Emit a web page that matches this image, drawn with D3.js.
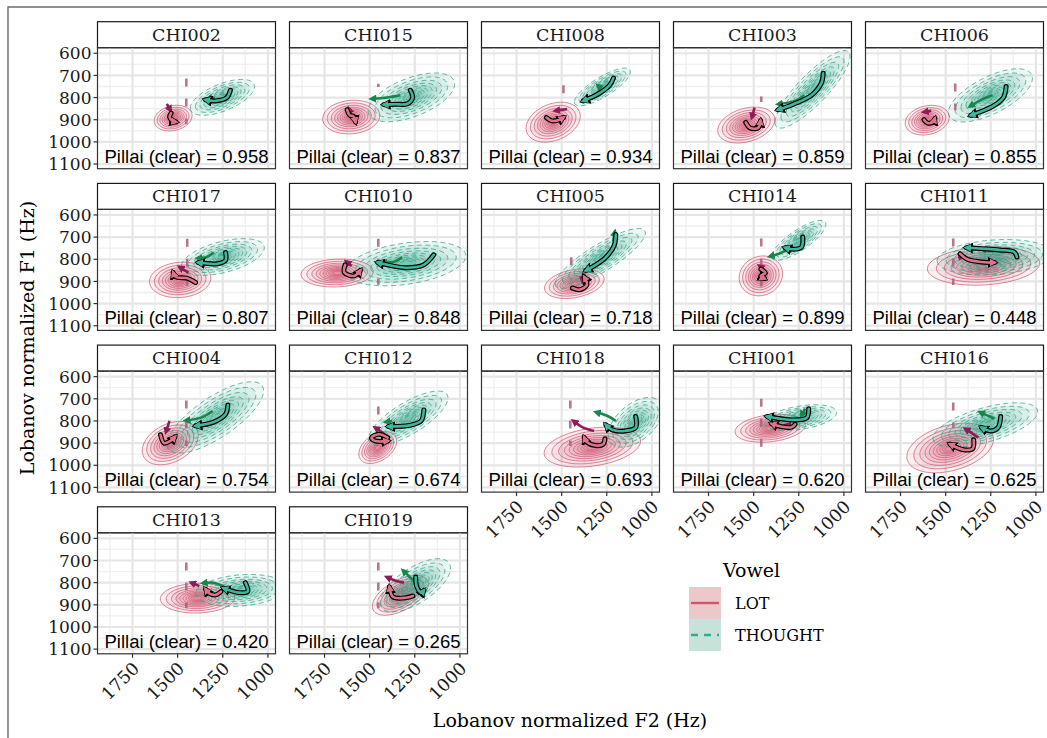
<!DOCTYPE html>
<html><head><meta charset="utf-8">
<script src="https://cdn.jsdelivr.net/npm/d3@7"></script>
<style>body{margin:0;background:#fff} svg{display:block}</style>
</head><body><svg id="c" width="1047" height="738"></svg>
<script>
// ---------------- data ----------------
const speakers = ["CHI002","CHI015","CHI008","CHI003","CHI006","CHI017","CHI010","CHI005","CHI014","CHI011","CHI004","CHI012","CHI018","CHI001","CHI016","CHI013","CHI019"];
const pillai = [0.958,0.837,0.934,0.859,0.855,0.807,0.848,0.718,0.899,0.448,0.754,0.674,0.693,0.620,0.625,0.420,0.265];
const vowels = ["LOT","THOUGHT"];
const xTicks = [1750,1500,1250,1000];
const yTicks = [600,700,800,900,1000,1100];
// density centres [F2, F1] and spread [sdF2, sdF1, correlation]
const lotCenter = [[1525,893],[1602,888],[1547,911],[1541,924],[1602,902],[1486,893],[1680,862],[1430,910],[1460,875],[1290,830],[1541,900],[1455,920],[1330,918],[1408,833],[1475,922],[1390,870],[1330,857]];
const lotSpread = [[105,58,0.2],[158,76,0.1],[150,90,0.3],[158,81,0.3],[122,67,0.2],[170,80,0.1],[200,63,0.1],[165,67,0.3],[120,90,0.1],[311,87,0.15],[155,98,0.35],[105,72,0.4],[267,90,0.3],[195,63,0.25],[240,112,0.35],[206,67,0.05],[155,90,0.55]];
const thoughtCenter = [[1252,799],[1269,799],[1274,752],[1174,763],[1252,790],[1250,790],[1300,820],[1286,796],[1250,715],[1230,791],[1291,784],[1286,788],[1091,806],[1240,785],[1280,818],[1150,835],[1247,812]];
const thoughtSpread = [[178,81,0.6],[240,110,0.55],[155,85,0.8],[208,175,0.85],[233,120,0.65],[230,83,0.5],[333,100,0.35],[250,135,0.85],[150,90,0.8],[317,80,0.2],[267,161,0.75],[220,123,0.75],[150,112,0.5],[200,58,0.4],[290,100,0.6],[250,72,0.2],[195,120,0.65]];
// mean trajectories (clear tokens, outlined)
const lotTraj = [
 [[1536,870],[1545,888],[1528,905],[1510,910]],
 [[1625,855],[1610,880],[1590,885],[1578,910]],
 [[1585,890],[1555,905],[1520,902],[1490,890]],
 [[1544,912],[1520,937],[1475,937],[1462,905]],
 [[1620,900],[1600,915],[1570,910],[1560,895]],
 [[1400,905],[1450,885],[1510,880],[1525,860]],
 [[1636,825],[1640,860],[1585,875],[1552,850]],
 [[1440,930],[1400,937],[1360,915],[1375,880]],
 [[1460,845],[1435,862],[1460,875],[1440,887]],
 [[1420,775],[1380,800],[1300,812],[1230,815]],
 [[1595,862],[1575,900],[1540,890],[1515,872]],
 [[1400,875],[1450,860],[1490,875],[1470,890],[1400,890]],
 [[1260,880],[1270,905],[1320,910],[1360,895],[1375,875]],
 [[1270,815],[1290,828],[1350,825],[1400,812]],
 [[1345,885],[1350,925],[1400,930],[1475,905]],
 [[1260,840],[1290,855],[1325,848],[1345,830]],
 [[1260,860],[1300,868],[1370,865],[1390,820]]
];
const thoughtTraj = [
 [[1208,767],[1228,800],[1290,815],[1345,810]],
 [[1275,767],[1262,800],[1290,828],[1360,830],[1420,832]],
 [[1213,712],[1235,745],[1300,785],[1380,815]],
 [[1115,690],[1125,735],[1180,790],[1280,830],[1365,855]],
 [[1165,750],[1180,800],[1240,840],[1360,880]],
 [[1235,770],[1235,805],[1280,820],[1385,815]],
 [[1145,780],[1200,825],[1300,838],[1455,815]],
 [[1200,688],[1210,740],[1260,795],[1320,830],[1365,850]],
 [[1228,700],[1235,745],[1280,755],[1325,748]],
 [[1105,790],[1120,768],[1200,758],[1300,752],[1385,748]],
 [[1222,728],[1235,770],[1300,805],[1400,822]],
 [[1200,750],[1215,800],[1280,820],[1395,825]],
 [[1090,780],[1090,830],[1150,845],[1220,840],[1255,818]],
 [[1195,745],[1205,785],[1260,795],[1350,790],[1425,780]],
 [[1195,780],[1210,830],[1250,845],[1300,830]],
 [[1125,800],[1112,840],[1160,845],[1210,835],[1245,825]],
 [[1245,775],[1240,815],[1215,845],[1200,835]]
];
// other-context trajectories (thin, no outline)
const lotOther = [
 [[1560,828],[1540,858]],[[1600,885],[1615,850]],[[1470,852],[1535,860]],[[1495,845],[1510,890]],[[1580,860],[1620,865]],
 [[1440,860],[1490,835]],[[1600,830],[1630,810]],[[1380,860],[1385,900]],[[1455,838],[1468,830]],[[1430,790],[1405,786]],
 [[1545,800],[1565,850]],[[1415,860],[1470,830]],[[1320,845],[1380,830],[1435,800]],[[1300,820],[1320,818]],[[1319,876],[1355,855],[1391,836]],
 [[1380,815],[1425,800]],[[1310,800],[1360,790],[1405,775]]
];
const thoughtOther = [
 [[1295,800],[1335,806]],[[1330,790],[1400,800],[1490,806]],[[1280,760],[1300,745]],[[1220,790],[1270,815],[1365,830]],[[1240,790],[1290,805],[1365,840]],
 [[1300,770],[1340,790],[1390,795]],[[1320,790],[1360,810],[1430,815]],[[1215,720],[1205,675]],[[1320,760],[1360,775],[1410,787]],[[1250,760],[1300,755]],
 [[1305,755],[1370,785],[1455,798]],[[1375,800],[1410,805]],[[1200,800],[1240,780],[1310,760]],[[1215,745],[1235,775]],[[1230,790],[1270,775],[1310,760]],
 [[1250,815],[1300,800],[1360,802]],[[1258,790],[1290,765],[1315,745]]
];
// dashed reference segment [F2, F1 from, F1 to]
const refDash = [[1452,714,920],[1452,738,752],[1490,745,826],[1458,795,820],[1447,736,857],[1447,708,920],[1452,708,915],[1447,791,849],[1458,706,925],[1458,706,916],[1452,708,913],[1452,735,826],[1452,708,913],[1458,700,918],[1458,717,833],[1452,709,915],[1452,709,915]];

// ---------------- layout ----------------
const svg = d3.select("#c");
const PW = 178, PH = 121, SH = 26;
const colX = c => 97.5 + 192*c;
const rowY = r => 21.7 + 161.7*r;
const x = d3.scaleLinear().domain([1944, 958]).range([0, PW]);
const y = d3.scaleLinear().domain([575, 1121]).range([0, PH]);
const serif = "'DejaVu Serif', serif";
const COL = {lotLine:"#d2556f", lotFill:"#d4667c", thLine:"#25a084", thFill:"#34a88c",
  lotArrow:"#e07389", thArrow:"#3db69b", lotOther:"#8e1b5a", thOther:"#17864c", dash:"#a85f7e"};

// frame
svg.append("rect").attr("width",1047).attr("height",738).attr("fill","#fff");
svg.append("path").attr("d","M8,738 V7 H1047").attr("fill","none").attr("stroke","#6b6b6b").attr("stroke-width",1.4);

// markers
const defs = svg.append("defs");
function marker(id, color, size){
  defs.append("marker").attr("id",id).attr("viewBox","0 0 10 10").attr("refX",6).attr("refY",5)
    .attr("markerWidth",size).attr("markerHeight",size).attr("markerUnits","userSpaceOnUse").attr("orient","auto")
    .append("path").attr("d","M0,0 L10,5 L0,10 Z").attr("fill",color);
}
marker("mk-black","#000",11);
marker("mk-lot",COL.lotArrow,7.5);
marker("mk-th",COL.thArrow,7.5);
marker("mk-lo",COL.lotOther,8);
marker("mk-to",COL.thOther,8);

const levels = [1,0.84,0.7,0.58,0.48,0.39,0.31,0.24,0.18,0.12];
function ellipse(c, s, k){
  const pts = [];
  const q = Math.sqrt(1 - s[2]*s[2]);
  for (let i=0;i<72;i++){
    const t = i/72*2*Math.PI;
    pts.push([c[0] + k*s[0]*Math.cos(t), c[1] + k*s[1]*(s[2]*Math.cos(t) + q*Math.sin(t))]);
  }
  return pts;
}
const closed = d3.line().x(d=>x(d[0])).y(d=>y(d[1])).curve(d3.curveLinearClosed);
const curve = d3.line().x(d=>x(d[0])).y(d=>y(d[1])).curve(d3.curveCatmullRom.alpha(0.5));

const lastRow = [3,3,2,2,2];

speakers.forEach((sp, i) => {
  const c = i % 5, r = Math.floor(i / 5);
  const L = colX(c), T = rowY(r) + SH;
  // strip
  svg.append("rect").attr("x",L).attr("y",rowY(r)).attr("width",PW).attr("height",SH)
    .attr("fill","#fff").attr("stroke","#1a1a1a").attr("stroke-width",1.2);
  svg.append("text").attr("x",L+PW/2).attr("y",rowY(r)+SH/2+6).attr("text-anchor","middle")
    .attr("font-family",serif).attr("font-size",17.5).attr("fill","#1a1a1a").text(sp);

  const g = svg.append("g").attr("transform",`translate(${L},${T})`);
  defs.append("clipPath").attr("id","cp"+i).append("rect").attr("width",PW).attr("height",PH);
  // grid
  const grid = g.append("g");
  [1875,1625,1375,1125].forEach(v=>grid.append("line").attr("x1",x(v)).attr("x2",x(v)).attr("y1",0).attr("y2",PH).attr("stroke","#efefef").attr("stroke-width",1.3));
  [650,750,850,950,1050].forEach(v=>grid.append("line").attr("y1",y(v)).attr("y2",y(v)).attr("x1",0).attr("x2",PW).attr("stroke","#efefef").attr("stroke-width",1.3));
  xTicks.forEach(v=>grid.append("line").attr("x1",x(v)).attr("x2",x(v)).attr("y1",0).attr("y2",PH).attr("stroke","#e6e6e6").attr("stroke-width",2.2));
  yTicks.forEach(v=>grid.append("line").attr("y1",y(v)).attr("y2",y(v)).attr("x1",0).attr("x2",PW).attr("stroke","#e6e6e6").attr("stroke-width",2.2));

  const pg = g.append("g").attr("clip-path",`url(#cp${i})`);
  // LOT density
  levels.forEach(k=>{
    pg.append("path").attr("d",closed(ellipse(lotCenter[i],lotSpread[i],k)))
      .attr("fill",COL.lotFill).attr("fill-opacity",0.1)
      .attr("stroke",COL.lotLine).attr("stroke-width",0.8).attr("stroke-opacity",0.9);
  });
  // THOUGHT density
  levels.forEach(k=>{
    pg.append("path").attr("d",closed(ellipse(thoughtCenter[i],thoughtSpread[i],k)))
      .attr("fill",COL.thFill).attr("fill-opacity",0.095)
      .attr("stroke",COL.thLine).attr("stroke-width",0.8).attr("stroke-dasharray","5,3.5").attr("stroke-opacity",0.9);
  });
  // dashed reference segment
  const dd = refDash[i];
  pg.append("line").attr("x1",x(dd[0])).attr("x2",x(dd[0])).attr("y1",y(dd[1])).attr("y2",y(dd[2]))
    .attr("stroke",COL.dash).attr("stroke-width",2.6).attr("stroke-dasharray","8,12").attr("stroke-opacity",0.85);
  // other trajectories
  pg.append("path").attr("d",curve(lotOther[i])).attr("fill","none").attr("stroke",COL.lotOther)
    .attr("stroke-width",2.6).attr("marker-end","url(#mk-lo)");
  pg.append("path").attr("d",curve(thoughtOther[i])).attr("fill","none").attr("stroke",COL.thOther)
    .attr("stroke-width",2.6).attr("marker-end","url(#mk-to)");
  // outlined trajectories
  [[lotTraj[i],COL.lotArrow,"mk-lot"],[thoughtTraj[i],COL.thArrow,"mk-th"]].forEach(([pts,col,mk])=>{
    pg.append("path").attr("d",curve(pts)).attr("fill","none").attr("stroke","#000")
      .attr("stroke-width",5).attr("stroke-linecap","round").attr("stroke-linejoin","round").attr("marker-end","url(#mk-black)");
    pg.append("path").attr("d",curve(pts)).attr("fill","none").attr("stroke",col)
      .attr("stroke-width",2.6).attr("stroke-linecap","round").attr("stroke-linejoin","round").attr("marker-end",`url(#${mk})`);
  });
  // pillai label
  g.append("text").attr("x",PW/2).attr("y",PH-6).attr("text-anchor","middle")
    .attr("font-family","'Liberation Sans', Arial, sans-serif").attr("font-size",18.5).attr("fill","#000")
    .text(`Pillai (clear) = ${pillai[i].toFixed(3)}`);
  // border
  g.append("rect").attr("width",PW).attr("height",PH).attr("fill","none").attr("stroke","#333").attr("stroke-width",1.2);

  // y axis
  if (c === 0){
    yTicks.forEach(v=>{
      g.append("line").attr("x1",-4).attr("x2",0).attr("y1",y(v)).attr("y2",y(v)).attr("stroke","#333").attr("stroke-width",1.2);
      g.append("text").attr("x",-6).attr("y",y(v)).attr("dy","0.36em").attr("text-anchor","end")
        .attr("font-family",serif).attr("font-size",17).attr("fill","#1a1a1a").text(v);
    });
  }
  // x axis
  if (r === lastRow[c]){
    xTicks.forEach(v=>{
      g.append("line").attr("x1",x(v)).attr("x2",x(v)).attr("y1",PH).attr("y2",PH+4).attr("stroke","#333").attr("stroke-width",1.2);
      g.append("text").attr("transform",`translate(${x(v)+1},${PH+9}) rotate(-45)`).attr("text-anchor","end")
        .attr("dy","0.55em").attr("font-family",serif).attr("font-size",17.5).attr("fill","#1a1a1a").text(v);
    });
  }
});

// axis titles
svg.append("text").attr("x",570).attr("y",727).attr("text-anchor","middle").attr("font-family",serif)
  .attr("font-size",19).attr("fill","#000").text("Lobanov normalized F2 (Hz)");
svg.append("text").attr("transform","translate(34,338) rotate(-90)").attr("text-anchor","middle").attr("font-family",serif)
  .attr("font-size",19).attr("fill","#000").text("Lobanov normalized F1 (Hz)");

// legend
const lg = svg.append("g");
lg.append("text").attr("x",723).attr("y",577).attr("font-family",serif).attr("font-size",19).attr("fill","#000").text("Vowel");
vowels.forEach((v,j)=>{
  const ky = 587 + 32*j;
  lg.append("rect").attr("x",689).attr("y",ky).attr("width",32).attr("height",32).attr("fill", j===0 ? "#ecc8cb" : "#c7e2db");
  lg.append("line").attr("x1",691).attr("x2",719).attr("y1",ky+16).attr("y2",ky+16)
    .attr("stroke", j===0 ? COL.lotLine : "#35a98d").attr("stroke-width",2.4)
    .attr("stroke-dasharray", j===0 ? null : "7,6");
  lg.append("text").attr("x",735).attr("y",ky+22).attr("font-family",serif).attr("font-size",16)
    .attr("fill","#000").text(v);
});
</script></body></html>
